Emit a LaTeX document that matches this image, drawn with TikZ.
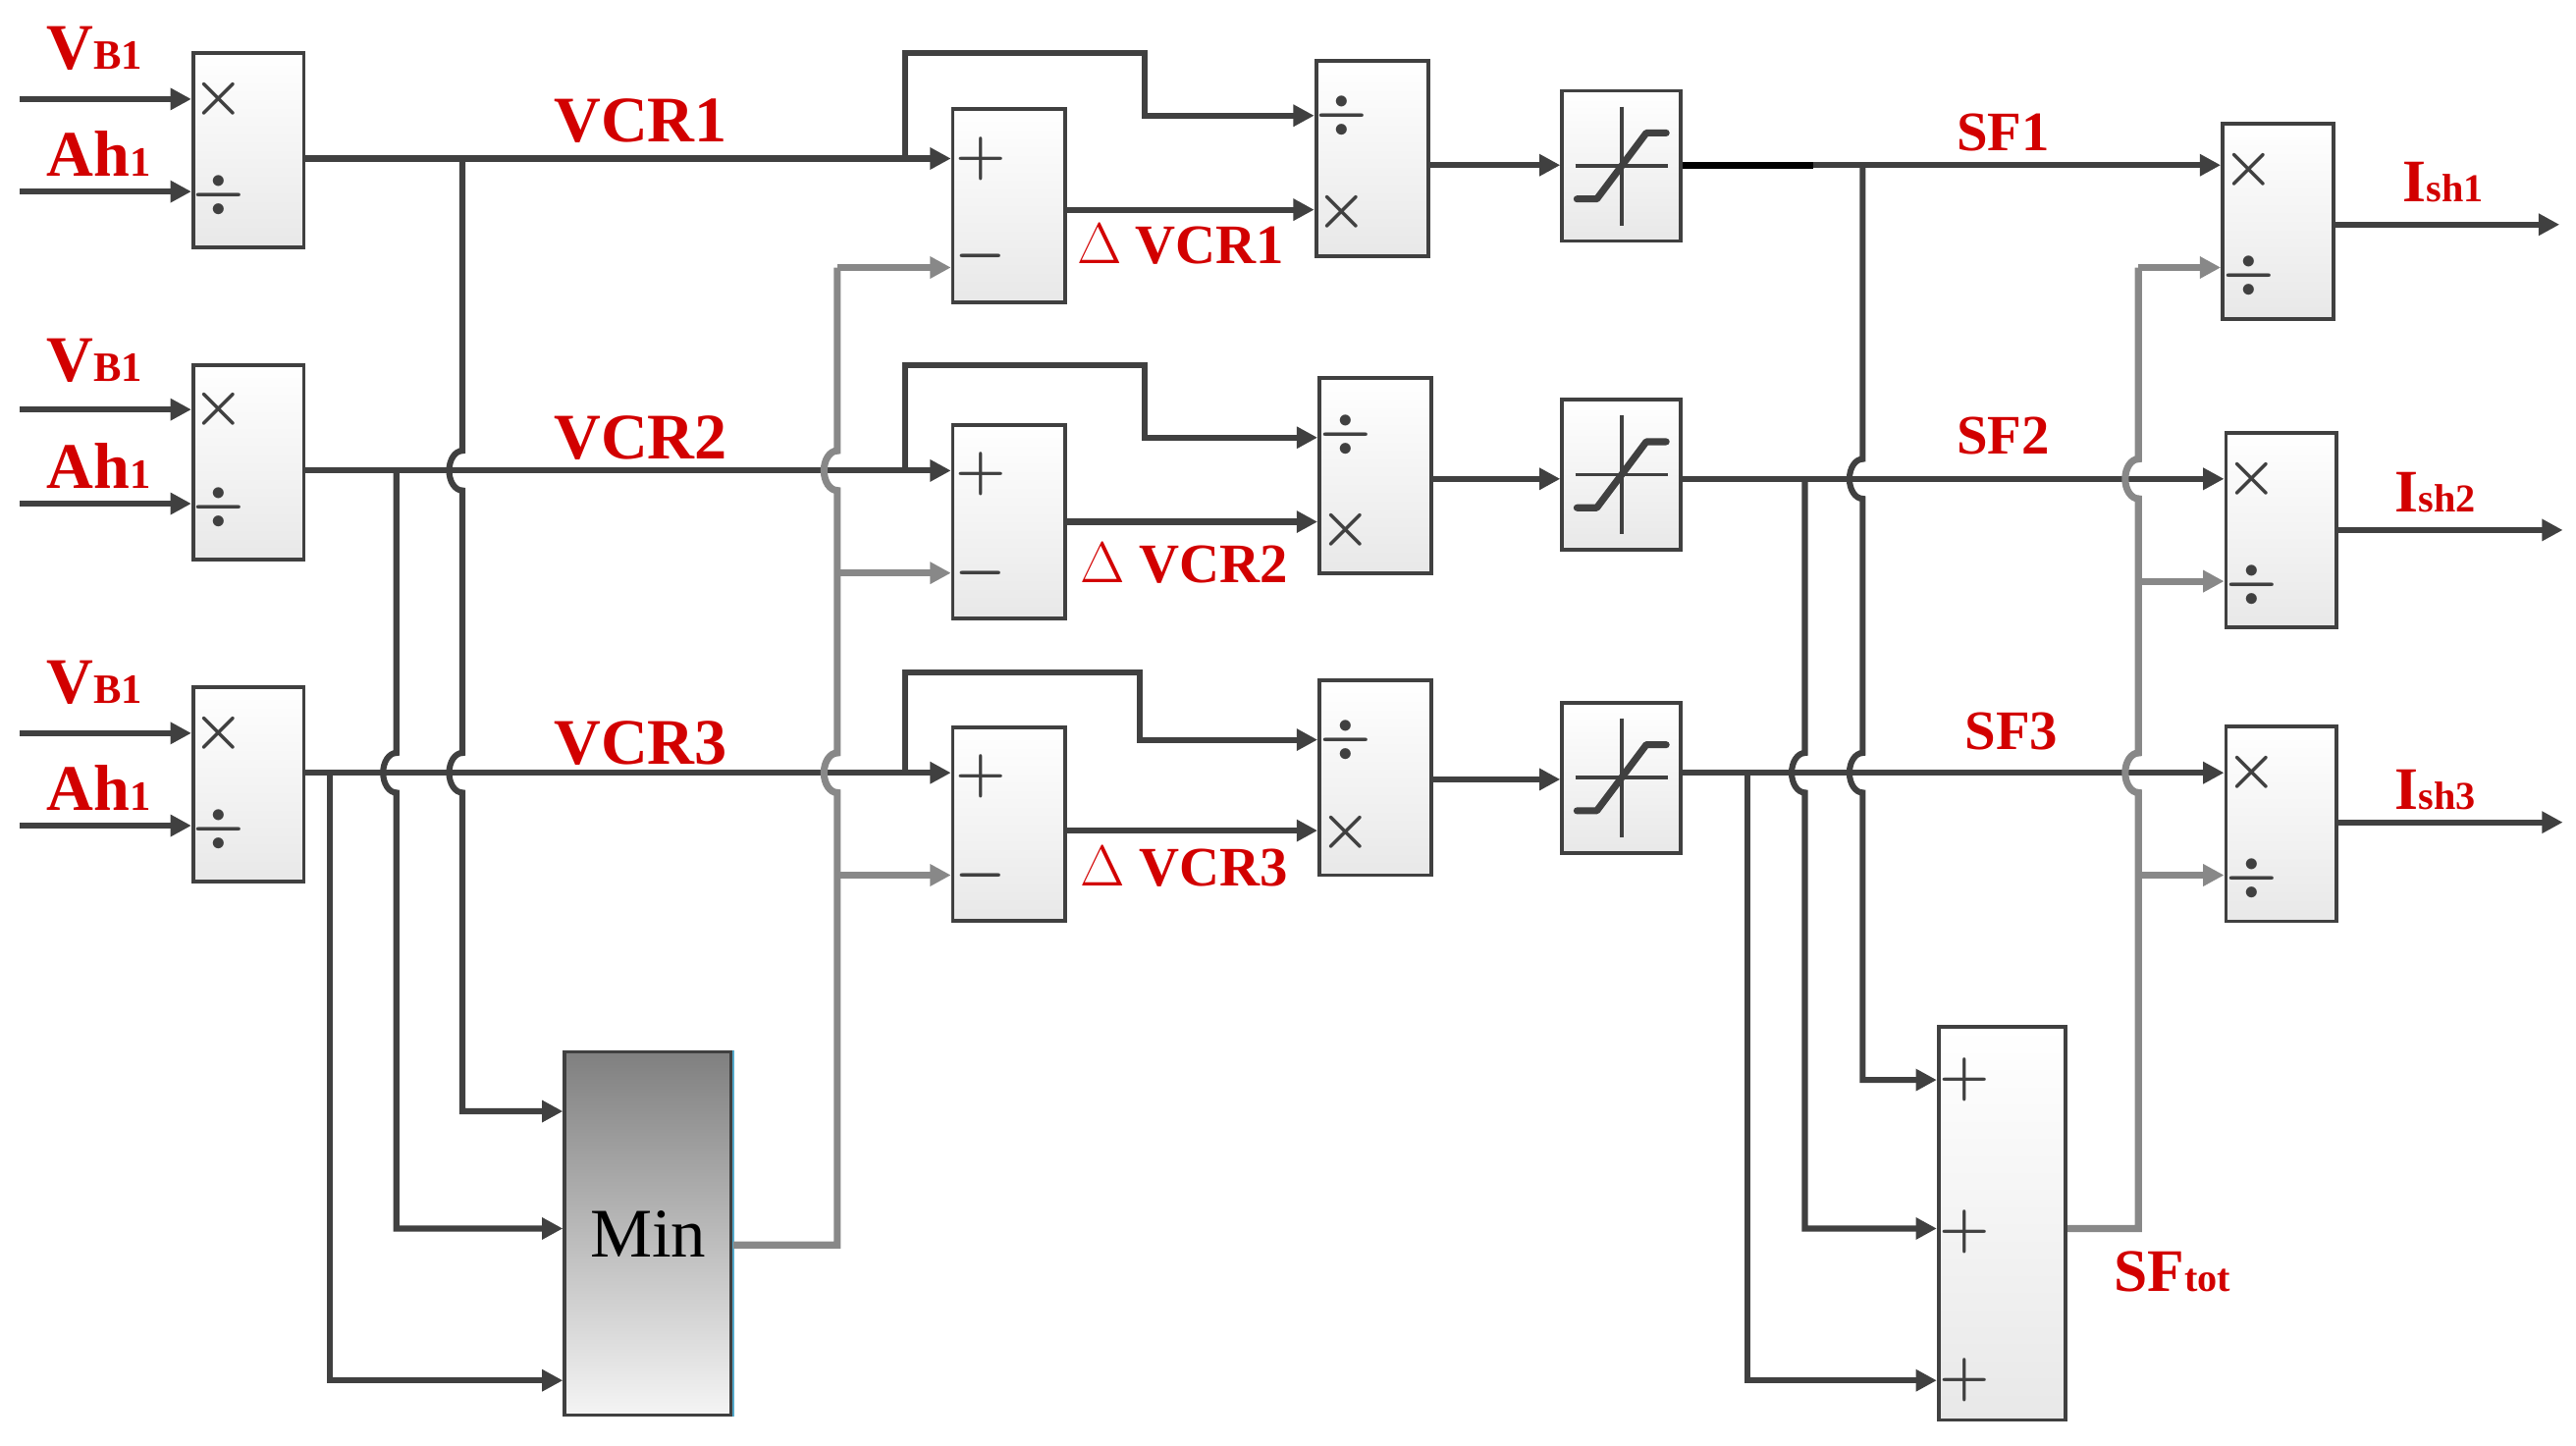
\documentclass[tikz,border=0pt]{standalone}
\usepackage{fontspec}
\setmainfont{Liberation Serif}
\usetikzlibrary{arrows.meta}
\definecolor{dk}{RGB}{64,64,64}
\definecolor{gr}{RGB}{136,136,136}
\definecolor{rd}{RGB}{210,0,0}
\newcommand\satsym[1]{\begin{scope}[shift={(#1.center)}]
\draw[dk,line width=1.6pt] (0,-36) -- (0,36);
\draw[dk,line width=1.6pt] (-28,0) -- (28,0);
\draw[dk,line width=3pt,line cap=round,line join=round] (-27,20) -- (-15,20) -- (15,-20) -- (27,-20);
\end{scope}}
\newcommand\mysz[2]{{\fontsize{#1}{#1}\selectfont\bfseries #2}}
\begin{document}
\begin{tikzpicture}[x=0.025cm,y=-0.025cm,
 blk/.style 2 args={draw=dk,line width=1.6pt,top color=white,bottom color=gray!18,minimum width=#1*0.025cm,minimum height=#2*0.025cm,inner sep=0pt},
 ln/.style={draw=dk,line width=2.6pt},
 arr/.style={ln,-{Triangle[length=9pt,width=9pt]}},
 gln/.style={draw=gr,line width=3pt},
 garr/.style={gln,-{Triangle[length=9pt,width=9pt]}},
 sym/.style={text=dk,font=\fontsize{30}{30}\selectfont\boldmath},
 lab/.style={text=rd,font=\fontsize{28}{28}\selectfont\bfseries}]
\useasboundingbox (0,0) rectangle (1560,875.7);
\node[blk={67}{118}] (m1) at (150.5,91) {};
\node[blk={67}{118}] (m2) at (150.5,280) {};
\node[blk={67}{118}] (m3) at (150.5,475) {};
\node[blk={68}{117}] (s1) at (611,124.5) {};
\node[blk={68}{117}] (s2) at (611,316) {};
\node[blk={68}{117}] (s3) at (611,499) {};
\node[blk={68}{118}] (d1) at (831,96) {};
\node[blk={68}{118}] (d2) at (833,288) {};
\node[blk={68}{118}] (d3) at (833,471) {};
\node[blk={72}{91}] (t1) at (982,100.5) {};
\node[blk={72}{91}] (t2) at (982,287.5) {};
\node[blk={72}{91}] (t3) at (982,471) {};
\node[blk={67}{118}] (f1) at (1379.5,134) {};
\node[blk={67}{118}] (f2) at (1381.5,321) {};
\node[blk={67}{118}] (f3) at (1381.5,499) {};
\node[draw=dk,line width=1.6pt,top color=gray!100,bottom color=gray!8,minimum width=101*0.025cm,minimum height=220*0.025cm,inner sep=0pt,font=\fontsize{30}{30}\selectfont] (mn) at (392.5,747) {Min};
\draw[cyan!60!gray,line width=1.2pt] (mn.north east) -- (mn.south east);
\node[blk={77}{238}] (tot) at (1212.5,741) {};
\satsym{t1}\satsym{t2}\satsym{t3}
\foreach \b/\ya/\yb/\sa/\sb in {m1/60/118/$\times$/$\div$,m2/248/307/$\times$/$\div$,m3/444/502/$\times$/$\div$,
 d1/70/128/$\div$/$\times$,d2/263/321/$\div$/$\times$,d3/448/504/$\div$/$\times$,
 f1/103/167/$\times$/$\div$,f2/290/354/$\times$/$\div$,f3/468/532/$\times$/$\div$}{
 \node[sym] at ([xshift=0.42cm]\b.west |- 0,\ya) {\sa};
 \node[sym] at ([xshift=0.42cm]\b.west |- 0,\yb) {\sb};}
\foreach \b/\ya/\yb in {s1/96/155,s2/287/347,s3/470/530}{
 \node[sym] at ([xshift=0.45cm]\b.west |- 0,\ya) {$+$};
 \node[sym] at ([xshift=0.45cm]\b.west |- 0,\yb) {$-$};}
\foreach \y in {654,746,836}{\node[sym] at ([xshift=0.42cm]tot.west |- 0,\y) {$+$};}
\foreach \n/\y in {a/60,b/116,c/248,d/305,e/444,f/500}{\coordinate (in\n) at (12,\y);}
\draw[arr] (ina) -- (m1.west|-ina); \draw[arr] (inb) -- (m1.west|-inb);
\draw[arr] (inc) -- (m2.west|-inc); \draw[arr] (ind) -- (m2.west|-ind);
\draw[arr] (ine) -- (m3.west|-ine); \draw[arr] (inf) -- (m3.west|-inf);
\foreach \y in {0,189,384}{
 \node[lab,anchor=base west,inner sep=0pt] at (28,42+\y) {\mysz{28}{V}\mysz{18}{B1}};
 \node[lab,anchor=base west,inner sep=0pt] at (28,107+\y) {\mysz{28}{Ah}\mysz{18}{1}};}
\draw[arr] (m1.east|-0,96) -- (s1.west|-0,96);
\draw[arr] (m2.east|-0,285) -- (s2.west|-0,285);
\draw[arr] (m3.east|-0,468) -- (s3.west|-0,468);
\node[lab] at (388,73) {VCR1};
\node[lab] at (388,265) {VCR2};
\node[lab] at (388,450) {VCR3};
\draw[arr] (548,96) -- (548,32) -- (693,32) -- (693,70) -- (d1.west|-0,70);
\draw[arr] (548,285) -- (548,221) -- (693,221) -- (693,265) -- (d2.west|-0,265);
\draw[arr] (548,468) -- (548,407) -- (690,407) -- (690,448) -- (d3.west|-0,448);
\draw[arr] (s1.east|-0,127) -- (d1.west|-0,127);
\draw[arr] (s2.east|-0,316) -- (d2.west|-0,316);
\draw[arr] (s3.east|-0,503) -- (d3.west|-0,503);
\node[lab,font=\fontsize{24}{24}\selectfont\bfseries] at (715,148) {$\Delta$ VCR1};
\node[lab,font=\fontsize{24}{24}\selectfont\bfseries] at (717,341) {$\Delta$ VCR2};
\node[lab,font=\fontsize{24}{24}\selectfont\bfseries] at (717,525) {$\Delta$ VCR3};
\draw[arr] (d1.east|-0,100) -- (t1.west|-0,100);
\draw[arr] (d2.east|-0,290) -- (t2.west|-0,290);
\draw[arr] (d3.east|-0,472) -- (t3.west|-0,472);
\draw[arr] (t1.east|-0,100) -- (f1.west|-0,100);
\draw[black,line width=3pt] (t1.east|-0,100) -- (1098,100);
\draw[arr] (t2.east|-0,290) -- (f2.west|-0,290);
\draw[arr] (t3.east|-0,468) -- (f3.west|-0,468);
\node[lab,font=\fontsize{24}{24}\selectfont\bfseries] at (1213,80) {SF1};
\node[lab,font=\fontsize{24}{24}\selectfont\bfseries] at (1213,264) {SF2};
\node[lab,font=\fontsize{24}{24}\selectfont\bfseries] at (1218,443) {SF3};
\draw[arr] (f1.east|-0,136) -- (1550,136);
\draw[arr] (f2.east|-0,321) -- (1552,321);
\draw[arr] (f3.east|-0,498) -- (1552,498);
\node[lab,anchor=base west,inner sep=0pt] at (1455,122) {\mysz{26}{I}\mysz{17}{sh1}};
\node[lab,anchor=base west,inner sep=0pt] at (1450,310) {\mysz{26}{I}\mysz{17}{sh2}};
\node[lab,anchor=base west,inner sep=0pt] at (1450,490) {\mysz{26}{I}\mysz{17}{sh3}};
\node[lab,anchor=base west,inner sep=0pt] at (1280,782) {\mysz{26}{SF}\mysz{17}{tot}};
\draw[arr] (280,96) -- (280,273) arc[start angle=90,end angle=270,x radius=0.2cm,y radius=0.3cm] -- (280,456) arc[start angle=90,end angle=270,x radius=0.2cm,y radius=0.3cm] -- (280,673) -- (mn.west|-0,673);
\draw[arr] (240,285) -- (240,456) arc[start angle=90,end angle=270,x radius=0.2cm,y radius=0.3cm] -- (240,744) -- (mn.west|-0,744);
\draw[arr] (200,468) -- (200,836) -- (mn.west|-0,836);
\draw[gln] (507,162) -- (507,273) arc[start angle=90,end angle=270,x radius=0.2cm,y radius=0.3cm] -- (507,456) arc[start angle=90,end angle=270,x radius=0.2cm,y radius=0.3cm] -- (507,754) -- (mn.east|-0,754);
\draw[garr] (507,162) -- (s1.west|-0,162);
\draw[garr] (507,347) -- (s2.west|-0,347);
\draw[garr] (507,530) -- (s3.west|-0,530);
\draw[arr] (1128,100) -- (1128,278) arc[start angle=90,end angle=270,x radius=0.2cm,y radius=0.3cm] -- (1128,456) arc[start angle=90,end angle=270,x radius=0.2cm,y radius=0.3cm] -- (1128,654) -- (tot.west|-0,654);
\draw[arr] (1093,290) -- (1093,456) arc[start angle=90,end angle=270,x radius=0.2cm,y radius=0.3cm] -- (1093,744) -- (tot.west|-0,744);
\draw[arr] (1058,468) -- (1058,836) -- (tot.west|-0,836);
\draw[gln] (1295,162) -- (1295,278) arc[start angle=90,end angle=270,x radius=0.2cm,y radius=0.3cm] -- (1295,456) arc[start angle=90,end angle=270,x radius=0.2cm,y radius=0.3cm] -- (1295,744) -- (tot.east|-0,744);
\draw[garr] (1295,162) -- (f1.west|-0,162);
\draw[garr] (1295,352) -- (f2.west|-0,352);
\draw[garr] (1295,530) -- (f3.west|-0,530);
\end{tikzpicture}
\end{document}
